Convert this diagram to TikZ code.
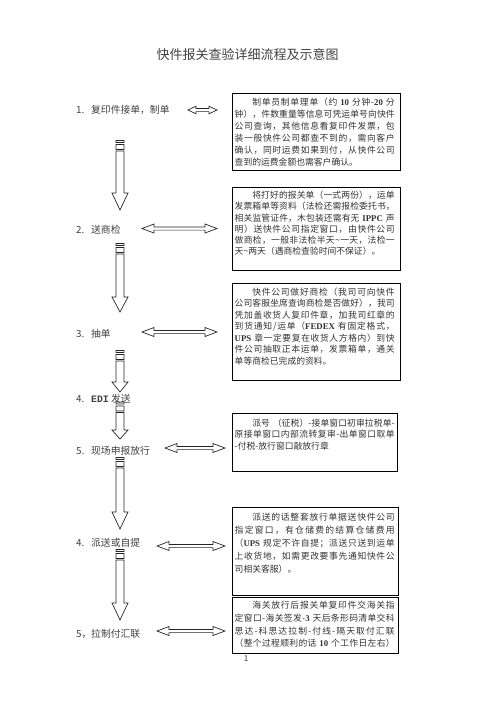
\documentclass[tikz,border=0pt]{standalone}
\usepackage{fontspec}
\setmainfont{Noto Sans CJK SC}
\newfontfamily\lat{Liberation Serif}
\newfontfamily\mono{Liberation Mono}
\usetikzlibrary{calc}
\newXeTeXintercharclass\jcls
\makeatletter
\def\setjcls#1#2{\count@=#1\relax\loop\XeTeXcharclass\count@=\jcls\ifnum\count@<#2\relax\advance\count@\@ne\repeat}
\makeatother
\setjcls{"3000}{"303F}
\setjcls{"4E00}{"9FFF}
\setjcls{"FF00}{"FFEF}
\XeTeXinterchartokenstate=1
\XeTeXinterchartoks\jcls\jcls={\hskip0pt plus 1pt\relax}
\XeTeXinterchartoks 0 \jcls={\hskip0pt plus 1pt\relax}
\XeTeXinterchartoks\jcls 0 ={\hskip0pt plus 1pt\relax}
\newcommand\jline[1]{\makebox[160pt][s]{#1}}
\newcommand\lastline[1]{\makebox[160pt][l]{#1}}
\newcommand\ind{\hspace*{17.6pt}}
\newcommand\lb[1]{{\lat\bfseries #1}}
\newcommand\dblarr[4]{%
  \draw[arrline] let \p1=(#1), \p2=(#2) in
  (\x1,\y1) -- (\x1+#3pt,\y1+#4pt) -- (\x1+#3pt,\y1+1.6pt) -- (\x2-#3pt,\y1+1.6pt)
  -- (\x2-#3pt,\y1+#4pt) -- (\x2,\y1) -- (\x2-#3pt,\y1-#4pt) -- (\x2-#3pt,\y1-1.6pt)
  -- (\x1+#3pt,\y1-1.6pt) -- (\x1+#3pt,\y1-#4pt) -- cycle;}
\newcommand\vararr[3]{%
  \draw[arrline] let \p1=(#1), \p2=(#2) in
  (\x1-4pt,\y1) -- (\x1-4pt,\y2+#3pt) -- (\x1-8pt,\y2+#3pt) -- (\x1,\y2)
  -- (\x1+8pt,\y2+#3pt) -- (\x1+4pt,\y2+#3pt) -- (\x1+4pt,\y1) -- cycle
  (\x1-4pt,\y1+1.5pt) rectangle (\x1+4pt,\y1+6.5pt)
  (\x1-4pt,\y1+8.5pt) rectangle (\x1+4pt,\y1+10.5pt);}
\begin{document}
\begin{tikzpicture}[x=1pt,y=-1pt,
  arrline/.style={draw=black!85,line width=0.7pt},
  frame/.style={draw=black,line width=1pt,inner sep=0pt,anchor=north west},
  lab/.style={anchor=west,inner sep=0pt,text=black!75,font=\fontsize{9.8}{12}\selectfont},
  txt/.style={anchor=base west,inner sep=0pt,text=black!80,text width=160pt,align=left}]
\useasboundingbox (0,0) rectangle (496,702);
\node[inner sep=0pt,text=black!75,font=\fontsize{13}{15}\selectfont] (title) at (247.5,55) {快件报关查验详细流程及示意图};
% left labels
\node[lab] (l1) at (76,110) {\makebox[15pt][l]{1.}复印件接单，制单};
\node[lab] (l2) at (76,230) {\makebox[15pt][l]{2.}送商检};
\node[lab] (l3) at (76,334) {\makebox[15pt][l]{3.}抽单};
\node[lab] (l4) at (76,399) {\makebox[15pt][l]{4.}{\mono\bfseries EDI} 发送};
\node[lab] (l5) at (76,450.5) {\makebox[15pt][l]{5.}现场申报放行};
\node[lab] (l6) at (76,542.5) {\makebox[15pt][l]{4.}派送或自提};
\node[lab] (l7) at (76,634) {\makebox[15pt][l]{5，}拉制付汇联};
% boxes
\node[frame,minimum width=168pt,minimum height=77pt] (b1) at (232,93) {};
\node[frame,minimum width=168pt,minimum height=83pt] (b2) at (232,187) {};
\node[frame,minimum width=168pt,minimum height=97pt] (b3) at (232,283) {};
\node[frame,minimum width=165pt,minimum height=58pt] (b4) at (232,413) {};
\node[frame,minimum width=166pt,minimum height=88pt] (b5) at (232,507) {};
\node[frame,minimum width=166pt,minimum height=56pt] (b6) at (232,597) {};
% box texts
\node[txt,font=\fontsize{8.8}{12.1}\selectfont] (t1) at (234.5,105.4) {%
\jline{\ind 制单员制单理单（约 \lb{10} 分钟-\lb{20} 分}\\
\jline{钟），件数重量等信息可凭运单号向快件}\\
\jline{公司查询，其他信息看复印件发票，包}\\
\jline{装一般快件公司都查不到的，需向客户}\\
\jline{确认，同时运费如果到付，从快件公司}\\
\lastline{查到的运费金额也需客户确认。}};
\node[txt,font=\fontsize{8.8}{11.3}\selectfont] (t2) at (234.5,198.4) {%
\jline{\ind 将打好的报关单（一式两份），运单}\\
\jline{发票箱单等资料（法检还需报检委托书，}\\
\jline{相关监管证件，木包装还需有无 \lb{IPPC} 声}\\
\jline{明）送快件公司指定窗口，由快件公司}\\
\jline{做商检，一般非法检半天\textasciitilde 一天，法检一}\\
\lastline{天\textasciitilde 两天（遇商检查验时间不保证）。}};
\node[txt,font=\fontsize{8.8}{11.5}\selectfont] (t3) at (234.5,295.4) {%
\jline{\ind 快件公司做好商检（我司可向快件}\\
\jline{公司客服坐席查询商检是否做好），我司}\\
\jline{凭加盖收货人复印件章，加我司红章的}\\
\jline{到货通知/运单（\lb{FEDEX} 有固定格式，}\\
\jline{\lb{UPS} 章一定要复在收货人方格内）到快}\\
\jline{件公司抽取正本运单，发票箱单，通关}\\
\lastline{单等商检已完成的资料。}};
\node[txt,font=\fontsize{8.8}{11.3}\selectfont] (t4) at (234.5,426.4) {%
\jline{\ind 派号 （征税）-接单窗口初审拉税单-}\\
\jline{原接单窗口内部流转复审-出单窗口取单}\\
\lastline{-付税-放行窗口敲放行章}};
\node[txt,font=\fontsize{8.8}{13}\selectfont] (t5) at (234.5,520.4) {%
\jline{\ind 派送的话整套放行单据送快件公司}\\
\jline{指定窗口，有仓储费的结算仓储费用}\\
\jline{（\lb{UPS} 规定不许自提；派送只送到运单}\\
\jline{上收货地，如需更改要事先通知快件公}\\
\lastline{司相关客服）。}};
\node[txt,font=\fontsize{8.8}{12.8}\selectfont] (t6) at (234.5,608.4) {%
\jline{\ind 海关放行后报关单复印件交海关指}\\
\jline{定窗口-海关签发-\lb{3} 天后条形码清单交科}\\
\jline{思达-科思达拉制-付线-隔天取付汇联}\\
\jline{（整个过程顺利的话 \lb{10} 个工作日左右）}};
\node[inner sep=0pt,text=black!80,font=\fontsize{8}{10}\selectfont] (pg) at (246,659) {1};
% connector end points
\coordinate (v1a) at (120,151);   \coordinate (v1b) at (120,210);
\coordinate (v2a) at (120,254);   \coordinate (v2b) at (120,312);
\coordinate (v3a) at (120,361);   \coordinate (v3b) at (120,392);
\coordinate (v4a) at (120,412.5); \coordinate (v4b) at (120,439);
\coordinate (v5a) at (120,468);   \coordinate (v5b) at (120,529);
\coordinate (v6a) at (120,560);   \coordinate (v6b) at (120,620);
\coordinate (d1a) at (188,110);   \coordinate (d1b) at (217,110);
\coordinate (d2a) at (142,228.5); \coordinate (d2b) at (217,228.5);
\coordinate (d3a) at (142,332);   \coordinate (d3b) at (217,332);
\coordinate (d4a) at (165,448);   \coordinate (d4b) at (225,448);
\coordinate (d5a) at (157,546);   \coordinate (d5b) at (225,546);
\coordinate (d6a) at (157,631);   \coordinate (d6b) at (225,631);
\vararr{v1a}{v1b}{17}
\vararr{v2a}{v2b}{15}
\vararr{v3a}{v3b}{10}
\vararr{v4a}{v4b}{9}
\vararr{v5a}{v5b}{17}
\vararr{v6a}{v6b}{17}
\dblarr{d1a}{d1b}{8}{3.8}
\dblarr{d2a}{d2b}{12}{4.5}
\dblarr{d3a}{d3b}{12}{4.5}
\dblarr{d4a}{d4b}{12}{4.5}
\dblarr{d5a}{d5b}{12}{4.5}
\dblarr{d6a}{d6b}{12}{4.5}
\end{tikzpicture}
\end{document}
